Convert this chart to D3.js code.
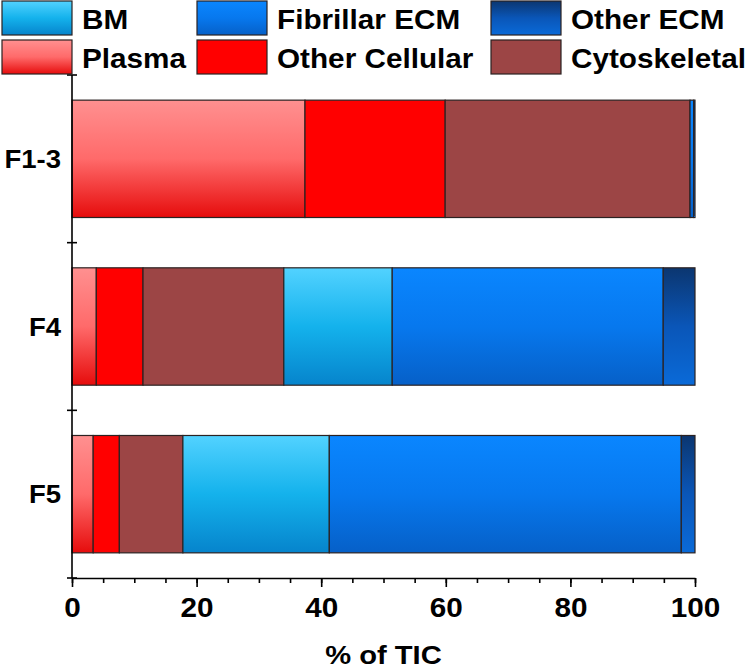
<!DOCTYPE html>
<html>
<head>
<meta charset="utf-8">
<script src="https://cdn.jsdelivr.net/npm/d3@7"></script>
<style>
  body { margin: 0; background: #fff; }
  svg text { font-family: Arial, "Liberation Sans", sans-serif; font-weight: bold; fill: #000; }
</style>
</head>
<body>
<div id="graph"></div>
<script>
var categories = ["F1-3", "F4", "F5"];
var series = ["Plasma", "Other Cellular", "Cytoskeletal", "BM", "Fibrillar ECM", "Other ECM"];
// % of TIC per fraction, in stacking order
var plasma       = [37.4, 3.9, 3.4];
var otherCell    = [22.5, 7.5, 4.2];
var cytoskeletal = [39.3, 22.6, 10.2];
var bm           = [0, 17.4, 23.5];
var fibrillar    = [0.6, 43.5, 56.5];
var otherEcm     = [0.2, 5.1, 2.2];
var xTicks = [0, 20, 40, 60, 80, 100];
var legendOrder = ["BM", "Fibrillar ECM", "Other ECM", "Plasma", "Other Cellular", "Cytoskeletal"];

var width = 750, height = 671;
var stretch = "scale(1.1,1)";

var svg = d3.select("div#graph")
    .append("svg")
    .attr("width", width)
    .attr("height", height)

// gradients, top -> bottom
var fills = {
    "Plasma": ["#ff9090", "#ff6a6a", "#e60c0c"],
    "Other Cellular": ["#ff0000", "#ff0000", "#ff0000"],
    "Cytoskeletal": ["#9c4545", "#9c4545", "#9c4545"],
    "BM": ["#52d2ff", "#14b2ec", "#0684cc"],
    "Fibrillar ECM": ["#0a86ff", "#0778ee", "#0660c8"],
    "Other ECM": ["#0b3670", "#0a56b8", "#0a6ad8"]
};
var defs = svg.append("defs");
series.forEach(function(s, i) {
    var g = defs.append("linearGradient")
	.attr("id", "grad" + i)
	.attr("x1", 0).attr("y1", 0).attr("x2", 0).attr("y2", 1);
    fills[s].forEach(function(c, j) {
	g.append("stop").attr("offset", (j * 50) + "%").attr("stop-color", c);
    })
})
function fillOf(s) { return "url(#grad" + series.indexOf(s) + ")"; }

var table = categories.map(function(c, i) {
    return {cat: c, "Plasma": plasma[i], "Other Cellular": otherCell[i], "Cytoskeletal": cytoskeletal[i],
	    "BM": bm[i], "Fibrillar ECM": fibrillar[i], "Other ECM": otherEcm[i]};
})
var stacked = d3.stack().keys(series)(table);

var x = d3.scaleLinear().domain([0, 100]).range([72, 695]);
var y = d3.scaleBand().domain(categories).range([75, 578])
    .paddingInner(0.3).paddingOuter(0.15);

// bars
svg.selectAll("g.layer")
    .data(stacked)
    .enter()
    .append("g")
    .attr("class", "layer")
    .attr("fill", function(d) { return fillOf(d.key) })
    .selectAll("rect")
    .data(function(d) { return d })
    .enter()
    .filter(function(d) { return d[1] - d[0] > 0 })
    .append("rect")
    .attr("x", function(d) { return x(d[0]) })
    .attr("y", function(d) { return y(d.data.cat) })
    .attr("width", function(d) { return x(d[1]) - x(d[0]) })
    .attr("height", y.bandwidth())
    .attr("stroke", "#2b2222")
    .attr("stroke-width", 1.2)

// x axis: minor then major
var xAxisG = svg.append("g").attr("transform", "translate(0,578)");
xAxisG.call(d3.axisBottom(x).tickValues(d3.range(0, 101, 5)).tickSize(5).tickFormat(""))
    .call(function(g) { g.select(".domain").remove() });
var major = svg.append("g").attr("transform", "translate(0,578)")
    .call(d3.axisBottom(x).tickValues(xTicks).tickSize(9).tickPadding(11).tickSizeOuter(0).tickFormat(d3.format("d")));
major.selectAll("text")
    .style("font-size", "27px")
    .attr("transform", stretch);
svg.selectAll(".tick line, .domain").attr("stroke", "#000").attr("stroke-width", 1.6);

// y axis line and boundary ticks
svg.append("line")
    .attr("x1", x(0)).attr("x2", x(0))
    .attr("y1", y.range()[0]).attr("y2", y.range()[1])
    .attr("stroke", "#000").attr("stroke-width", 1.6)
svg.selectAll("line.ytick")
    .data(d3.range(categories.length + 1))
    .enter()
    .append("line")
    .attr("class", "ytick")
    .attr("x1", x(0) - 5).attr("x2", x(0) + 5)
    .attr("y1", function(i) { return y.range()[0] + i * y.step() })
    .attr("y2", function(i) { return y.range()[0] + i * y.step() })
    .attr("stroke", "#000").attr("stroke-width", 1.6)

// category labels
svg.selectAll("text.cat")
    .data(categories)
    .enter()
    .append("text")
    .attr("class", "cat")
    .attr("text-anchor", "end")
    .attr("transform", function(d) { return "translate(61," + (y(d) + y.bandwidth() / 2 + 9) + ") " + stretch })
    .style("font-size", "25px")
    .text(function(d) { return d })

// axis title
svg.append("text")
    .attr("text-anchor", "middle")
    .attr("transform", "translate(" + x(50) + ",664) " + stretch)
    .style("font-size", "26.5px")
    .text("% of TIC")

// legend
var legendCols = [2, 197, 491];
var legend = svg.selectAll("g.legend")
    .data(legendOrder)
    .enter()
    .append("g")
    .attr("class", "legend")
    .attr("transform", function(d, i) { return "translate(" + legendCols[i % 3] + "," + (i < 3 ? 1 : 40) + ")" })
legend.append("rect")
    .attr("width", 70).attr("height", 34)
    .attr("fill", function(d) { return fillOf(d) })
    .attr("stroke", "#2b2222").attr("stroke-width", 1.2)
legend.append("text")
    .attr("transform", "translate(80,28) " + stretch)
    .style("font-size", "27px")
    .text(function(d) { return d })
</script>
</body>
</html>
